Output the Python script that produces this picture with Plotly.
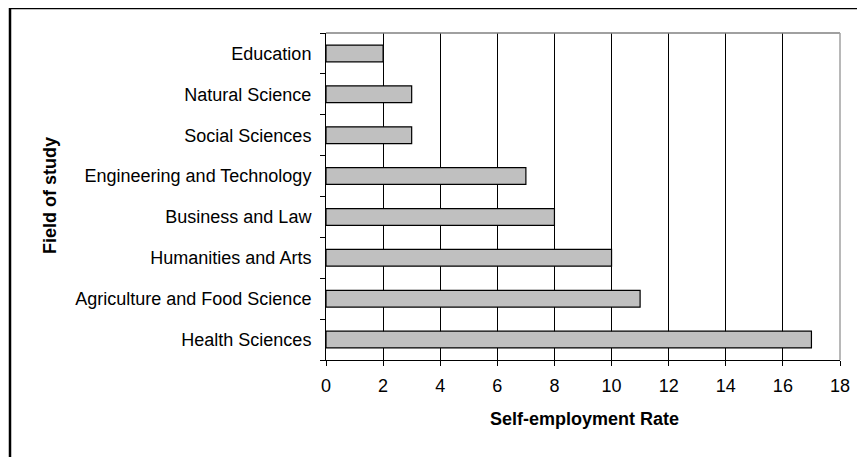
import plotly.graph_objects as go

categories = ["Health Sciences", "Agriculture and Food Science", "Humanities and Arts",
              "Business and Law", "Engineering and Technology", "Social Sciences",
              "Natural Science", "Education"]
values = [17, 11, 10, 8, 7, 3, 3, 2]
x_ticks = [0, 2, 4, 6, 8, 10, 12, 14, 16, 18]

# page offset of the plotly div (body margin)
OFF = 8
W, H = 865 - OFF, 457 - OFF
L, R, T, B = 326 - OFF, 840 - OFF, 33 - OFF, 360 - OFF

fig = go.Figure(go.Bar(
    y=categories, x=values, orientation="h",
    marker=dict(color="#c0c0c0", line=dict(color="black", width=1.2)),
    width=0.41,
))

font = "Liberation Sans, Arial, sans-serif"
fig.update_layout(
    width=W, height=H,
    margin=dict(l=L, r=W - R, t=T, b=H - B, pad=0),
    paper_bgcolor="white", plot_bgcolor="white",
    showlegend=False,
    font=dict(family=font, size=18, color="black"),
    xaxis=dict(
        range=[0, 18], tickvals=x_ticks, ticktext=[str(v) for v in x_ticks],
        showgrid=True, gridcolor="black", gridwidth=1,
        showline=True, linecolor="black", linewidth=1,
        ticks="outside", ticklen=5, tickcolor="black",
        ticklabelstandoff=4,
        zeroline=False,
    ),
    yaxis=dict(
        categoryorder="array", categoryarray=categories,
        range=[-0.5, 7.5],
        showgrid=False,
        showline=True, linecolor="black", linewidth=1,
        ticks="outside", ticklen=5, tickcolor="black", tickson="boundaries",
        ticklabelstandoff=10,
        zeroline=False,
    ),
)

def px_x(px):
    return (px - OFF - L) / (R - L)

def px_y(py):
    return (B - (py - OFF)) / (B - T)

shapes = [
    # outer frame (top and left edges visible)
    dict(type="line", xref="paper", yref="paper", x0=px_x(10), x1=px_x(900),
         y0=px_y(8), y1=px_y(8), line=dict(color="black", width=2.5)),
    dict(type="line", xref="paper", yref="paper", x0=px_x(10), x1=px_x(10),
         y0=px_y(8), y1=px_y(500), line=dict(color="black", width=2.5)),
    # plot area grey top/right border
    dict(type="line", xref="paper", yref="paper", x0=0, x1=1, y0=1, y1=1,
         line=dict(color="#808080", width=1.5), layer="above"),
    dict(type="line", xref="paper", yref="paper", x0=1, x1=1, y0=0, y1=1,
         line=dict(color="#a0a0a0", width=1.5), layer="above"),
]

annotations = [
    dict(text="<b>Self-employment Rate</b>", xref="paper", yref="paper",
         x=px_x(584), y=px_y(419), xanchor="center", yanchor="middle",
         showarrow=False, font=dict(size=18)),
    dict(text="<b>Field of study</b>", xref="paper", yref="paper",
         x=px_x(50), y=px_y(196), xanchor="center", yanchor="middle",
         textangle=-90, showarrow=False, font=dict(size=18)),
]
fig.update_layout(shapes=shapes, annotations=annotations)

fig.write_html("out.html")
